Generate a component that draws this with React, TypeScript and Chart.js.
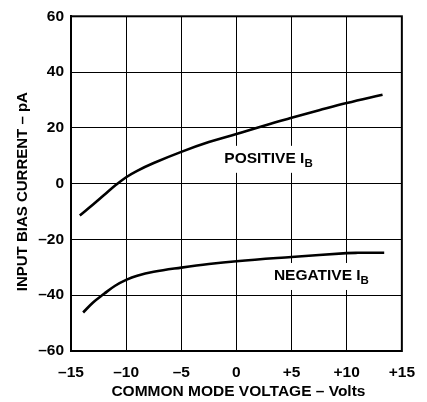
import React, { useEffect, useRef } from "react";
import { Chart, registerables } from "chart.js";

Chart.register(...registerables);

// ---- data ----
const X_TICKS = [-15, -10, -5, 0, 5, 10, 15];
const X_TICK_LABELS = ["–15", "–10", "–5", "0", "+5", "+10", "+15"];
const Y_TICKS = [-60, -40, -20, 0, 20, 40, 60];
const Y_TICK_LABELS = ["–60", "–40", "–20", "0", "20", "40", "60"];

const POS_X = [-14.2, -13, -12, -11, -10, -9, -7.5, -5, -2.5, 0, 2.5, 5, 7.5, 10, 13.25];
const POS_Y = [-11.4, -7.5, -4.1, -0.7, 2.3, 4.6, 7.4, 11.4, 14.9, 17.8, 20.8, 23.6, 26.3, 28.9, 31.9];

const NEG_X = [-13.9, -13, -12, -11, -10, -9, -7.5, -5, -2.5, 0, 5, 10, 11, 13.4];
const NEG_Y = [-46.2, -42.6, -39.5, -36.6, -34.5, -33.0, -31.6, -30.1, -28.8, -27.8, -26.3, -24.9, -24.8, -24.8];

const X_TITLE = "COMMON MODE VOLTAGE – Volts";
const Y_TITLE = "INPUT BIAS CURRENT – pA";
const POS_LABEL = "POSITIVE I";
const NEG_LABEL = "NEGATIVE I";
const LABEL_SUB = "B";

const FONT_FAMILY = '"Liberation Sans", Arial, Helvetica, sans-serif';

const overlay = {
  id: "overlay",
  beforeDatasetsDraw(chart: any) {
    const { ctx, scales } = chart;
    const xs = scales.x;
    const ys = scales.y;
    const items = [
      { text: POS_LABEL, x: -1.1, y: 8.9 },
      { text: NEG_LABEL, x: 3.4, y: -33.1 },
    ];
    ctx.save();
    for (const it of items) {
      const px = xs.getPixelForValue(it.x);
      const py = ys.getPixelForValue(it.y);
      ctx.font = `bold 15.5px ${FONT_FAMILY}`;
      const w1 = ctx.measureText(it.text).width;
      ctx.font = `bold 11.5px ${FONT_FAMILY}`;
      const w2 = ctx.measureText(LABEL_SUB).width;
      ctx.fillStyle = "#fff";
      ctx.fillRect(px - 5, py - 13, w1 + w2 + 10, 27);
      ctx.fillStyle = "#000";
      ctx.textBaseline = "middle";
      ctx.textAlign = "left";
      ctx.font = `bold 15.5px ${FONT_FAMILY}`;
      ctx.fillText(it.text, px, py);
      ctx.font = `bold 11.5px ${FONT_FAMILY}`;
      ctx.fillText(LABEL_SUB, px + w1, py + 5);
    }
    ctx.restore();
  },
  afterDraw(chart: any) {
    const { ctx, chartArea } = chart;
    const { left, top, right, bottom } = chartArea;
    ctx.save();
    ctx.strokeStyle = "#000";
    ctx.lineWidth = 2;
    ctx.strokeRect(left, top, right - left, bottom - top);
    ctx.fillStyle = "#000";
    ctx.font = `bold 15.5px ${FONT_FAMILY}`;
    ctx.textAlign = "center";
    ctx.textBaseline = "middle";
    ctx.fillText(X_TITLE, (left + right) / 2 + 2, 392);
    ctx.font = `bold 15px ${FONT_FAMILY}`;
    ctx.translate(23, (top + bottom) / 2 + 8);
    ctx.rotate(-Math.PI / 2);
    ctx.fillText(Y_TITLE, 0, 0);
    ctx.restore();
  },
};

export default function App() {
  const ref = useRef<HTMLCanvasElement | null>(null);

  useEffect(() => {
    if (!ref.current) return;
    const tickFont = { family: FONT_FAMILY, size: 15.5, weight: "bold" as const };
    const chart = new Chart(ref.current, {
      type: "scatter",
      data: {
        datasets: [
          {
            label: "Positive IB",
            data: POS_X.map((x, i) => ({ x, y: POS_Y[i] })),
            showLine: true,
            borderColor: "#000",
            borderWidth: 2.6,
            pointRadius: 0,
            tension: 0.4,
            fill: false,
          },
          {
            label: "Negative IB",
            data: NEG_X.map((x, i) => ({ x, y: NEG_Y[i] })),
            showLine: true,
            borderColor: "#000",
            borderWidth: 2.6,
            pointRadius: 0,
            tension: 0.4,
            fill: false,
          },
        ],
      },
      options: {
        animation: false,
        responsive: false,
        devicePixelRatio: 1,
        layout: { padding: { left: 0, top: 15, right: 19, bottom: 0 } },
        plugins: { legend: { display: false }, tooltip: { enabled: false } },
        scales: {
          x: {
            type: "linear",
            min: -15,
            max: 15,
            afterBuildTicks: (s: any) => {
              s.ticks = X_TICKS.map((v) => ({ value: v }));
            },
            afterFit: (s: any) => {
              s.height = 51;
            },
            ticks: {
              autoSkip: false,
              maxRotation: 0,
              padding: 12,
              color: "#000",
              font: tickFont,
              callback: (_v: any, i: number) => X_TICK_LABELS[i],
            },
            grid: { color: "#000", lineWidth: 1, drawTicks: false },
            border: { display: true, color: "#000", width: 2 },
          },
          y: {
            type: "linear",
            min: -60,
            max: 60,
            afterBuildTicks: (s: any) => {
              s.ticks = Y_TICKS.map((v) => ({ value: v }));
            },
            afterFit: (s: any) => {
              s.width = 71;
            },
            ticks: {
              autoSkip: false,
              padding: 7,
              color: "#000",
              font: tickFont,
              callback: (_v: any, i: number) => Y_TICK_LABELS[i],
            },
            grid: { color: "#000", lineWidth: 1, drawTicks: false },
            border: { display: true, color: "#000", width: 2 },
          },
        },
      },
      plugins: [overlay],
    });
    return () => chart.destroy();
  }, []);

  return (
    <div style={{ position: "fixed", left: 0, top: 0, width: 427, height: 402, background: "#fff" }}>
      <canvas ref={ref} width={427} height={402} style={{ width: 427, height: 402, display: "block" }} />
    </div>
  );
}
